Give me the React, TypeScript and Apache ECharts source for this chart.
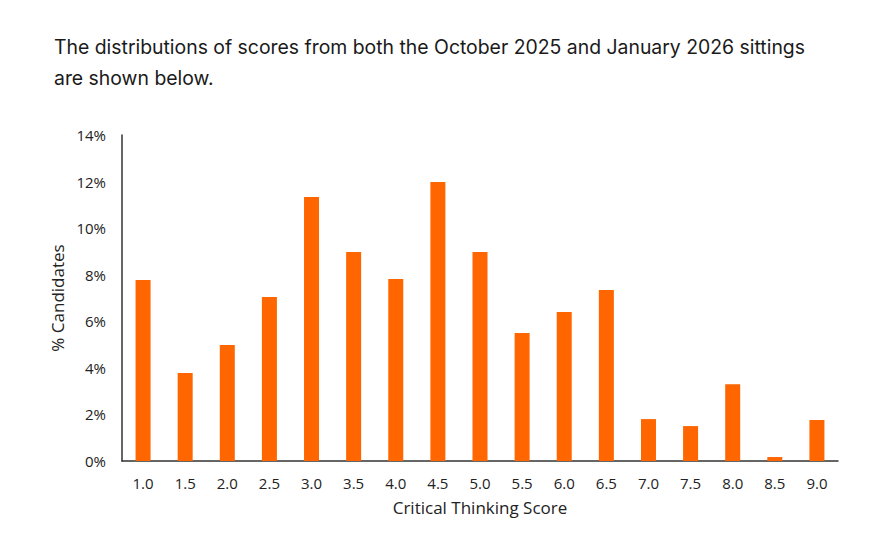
import React, { useEffect, useRef } from "react";
import * as echarts from "echarts";

const categories = ["1.0", "1.5", "2.0", "2.5", "3.0", "3.5", "4.0", "4.5", "5.0", "5.5", "6.0", "6.5", "7.0", "7.5", "8.0", "8.5", "9.0"];
const percentCandidates = [7.77, 3.78, 4.98, 7.04, 11.34, 8.98, 7.82, 11.98, 8.98, 5.5, 6.4, 7.34, 1.8, 1.5, 3.3, 0.17, 1.76];
const titleLines = [
  "The distributions of scores from both the October 2025 and January 2026 sittings",
  "are shown below.",
];

export default function App() {
  const ref = useRef<HTMLDivElement>(null);
  useEffect(() => {
    if (!ref.current) return;
    const chart = echarts.init(ref.current, null, { renderer: "svg" });
    const axisFont = "'Open Sans', 'Liberation Sans', sans-serif";
    chart.setOption({
      animation: false,
      backgroundColor: "#ffffff",
      graphic: [
        {
          type: "text",
          left: 54,
          top: 31,
          style: {
            text: titleLines.join("\n"),
            font: "400 19.4px Inter, 'Noto Sans', sans-serif",
            lineHeight: 31,
            fill: "#1a1a1a",
          },
        },
      ],
      grid: { left: 122, right: 50, top: 135, bottom: 88 },
      xAxis: {
        type: "category",
        data: categories,
        boundaryGap: true,
        axisLine: { lineStyle: { color: "#333333", width: 1.5 } },
        axisTick: { show: false },
        axisLabel: { color: "#222", fontFamily: axisFont, fontSize: 15, margin: 14 },
        name: "Critical Thinking Score",
        nameLocation: "middle",
        nameGap: 38,
        nameTextStyle: { color: "#222", fontFamily: axisFont, fontSize: 17 },
      },
      yAxis: {
        type: "value",
        min: 0,
        max: 14,
        interval: 2,
        axisLine: { show: true, lineStyle: { color: "#333333", width: 1.5 } },
        axisTick: { show: false },
        splitLine: { show: false },
        axisLabel: { color: "#222", fontFamily: axisFont, fontSize: 15, margin: 16, formatter: "{value}%" },
        name: "% Candidates",
        nameLocation: "middle",
        nameGap: 49,
        nameTextStyle: { color: "#222", fontFamily: axisFont, fontSize: 17 },
      },
      series: [
        {
          type: "bar",
          data: percentCandidates,
          barWidth: 15,
          itemStyle: { color: "#FF6600" },
        },
      ],
    });
    return () => chart.dispose();
  }, []);
  return <div ref={ref} style={{ width: 888, height: 549, position: "absolute", left: 0, top: 0 }} />;
}
